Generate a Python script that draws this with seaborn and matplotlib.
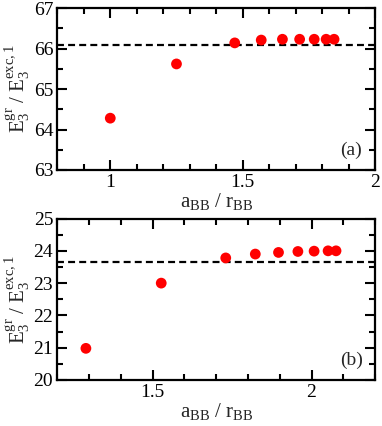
import numpy as np
import seaborn as sns
import matplotlib
matplotlib.use("Agg")
import matplotlib.pyplot as plt
import pandas as pd
from matplotlib.ticker import MultipleLocator

# panel (a)
x_a = [1.0, 1.25, 1.47, 1.57, 1.65, 1.715, 1.77, 1.815, 1.845]
y_a = [64.28, 65.62, 66.14, 66.21, 66.23, 66.23, 66.23, 66.23, 66.23]
ref_a = 66.1

# panel (b)
x_b = [1.29, 1.527, 1.73, 1.823, 1.896, 1.957, 2.008, 2.052, 2.077]
y_b = [20.98, 23.0, 23.78, 23.90, 23.95, 23.98, 23.99, 24.0, 24.0]
ref_b = 23.66

sns.set_style("ticks")
plt.rcParams['font.family'] = ['Liberation Serif', 'DejaVu Serif']
plt.rcParams['mathtext.fontset'] = 'custom'
plt.rcParams['mathtext.rm'] = 'Liberation Serif'
plt.rcParams['mathtext.it'] = 'Liberation Serif:italic'
plt.rcParams['lines.scale_dashes'] = False

fig = plt.figure(figsize=(3.82, 4.26), dpi=100)
ax1 = fig.add_axes([0.150, 0.601, 0.832, 0.380])
ax2 = fig.add_axes([0.150, 0.108, 0.832, 0.379])

panels = [
    (ax1, x_a, y_a, ref_a, (0.8, 2.0), (63, 67), "(a)"),
    (ax2, x_b, y_b, ref_b, (1.2, 2.2), (20, 25), "(b)"),
]

for ax, xs, ys, ref, xlim, ylim, tag in panels:
    df = pd.DataFrame({"x": xs, "y": ys})
    ax.axhline(ref, color="black", lw=1.6, dashes=(5.0, 3.0))
    sns.scatterplot(data=df, x="x", y="y", ax=ax, color="red", s=60,
                    edgecolor="none", zorder=3, clip_on=False)
    ax.set_xlim(*xlim)
    ax.set_ylim(*ylim)
    ax.xaxis.set_major_locator(MultipleLocator(0.5))
    ax.xaxis.set_minor_locator(MultipleLocator(0.1))
    ax.yaxis.set_major_locator(MultipleLocator(1))
    ax.yaxis.set_minor_locator(MultipleLocator(0.5))
    ax.xaxis.set_major_formatter(plt.FuncFormatter(lambda v, p: f"{v:g}"))
    ax.tick_params(which="both", direction="in", top=True, right=True,
                   width=1.5, labelsize=14, pad=3, color="black",
                   labelcolor="black")
    ax.tick_params(which="major", length=7)
    ax.tick_params(which="minor", length=4)
    for sp in ax.spines.values():
        sp.set_linewidth(1.6)
        sp.set_edgecolor("black")
    ax.set_xlabel(r"$\mathrm{a_{BB}\ /\ r_{BB}}$", fontsize=15, labelpad=0)
    ax.set_ylabel(r"$\mathrm{E_3^{gr}\ /\ E_3^{exc,1}}$", fontsize=15, labelpad=1)
    ax.text(0.925, 0.12, tag, transform=ax.transAxes, fontsize=14,
            ha="center", va="center")

fig.savefig("out.png", dpi=100)
